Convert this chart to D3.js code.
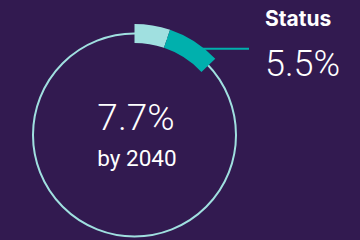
<!DOCTYPE html>
<html>
<head>
<meta charset="utf-8">
<script src="https://cdn.jsdelivr.net/npm/d3@7"></script>
<style>
  html, body { margin: 0; padding: 0; background: #321a50; }
  svg { display: block; }
</style>
</head>
<body>
<svg id="chart"></svg>
<script>
// segments along the ring (percent)
const segmentNames = ["Baseline", "Status"];
const segmentValues = [2.2, 3.3];
const ringMax = 42.4;          // full circle in percent
const statusValue = 5.5;
const targetValue = 7.7;
const targetLabel = "by 2040";
const statusLabel = "Status";
const markerAt = 4.6;          // where the callout line leaves the ring

const width = 360;
const height = 240;
const cx = 134.5, cy = 135;
const r = 101.5;
const band = 19;

const svg = d3.select("#chart")
  .attr("width", width)
  .attr("height", height);

svg.append("rect")
  .attr("width", width)
  .attr("height", height)
  .attr("fill", "#321a50");

const angle = d3.scaleLinear()
  .domain([0, ringMax])
  .range([0, 2 * Math.PI]);

const colors = d3.scaleOrdinal()
  .domain(segmentNames)
  .range(["#a0e0e0", "#00b0ad"]);

const g = svg.append("g")
  .attr("transform", `translate(${cx},${cy})`);

g.append("circle")
  .attr("r", r)
  .attr("fill", "none")
  .attr("stroke", "#a0e0e0")
  .attr("stroke-width", 2);

let acc = 0;
const segs = segmentValues.map((v, i) => {
  const s = { name: segmentNames[i], start: acc, end: acc + v };
  acc += v;
  return s;
});

const arc = d3.arc()
  .innerRadius(r - band / 2)
  .outerRadius(r + band / 2)
  .startAngle(d => angle(d.start))
  .endAngle(d => angle(d.end));

g.selectAll("path.seg")
  .data(segs)
  .enter()
  .append("path")
  .attr("class", "seg")
  .attr("d", arc)
  .attr("fill", d => colors(d.name));

// callout
const a = angle(markerAt);
const mx = cx + (r + band / 2) * Math.sin(a);
const my = cy - (r + band / 2) * Math.cos(a);

svg.append("line")
  .attr("x1", mx - 2)
  .attr("x2", 249)
  .attr("y1", my)
  .attr("y2", my)
  .attr("stroke", "#00b0ad")
  .attr("stroke-width", 2);

svg.append("text")
  .attr("x", 265)
  .attr("y", 26)
  .attr("fill", "#ffffff")
  .attr("font-family", "Inter, 'Noto Sans', sans-serif")
  .attr("font-weight", 700)
  .attr("font-size", 21)
  .text(statusLabel);

svg.append("text")
  .attr("x", 265)
  .attr("y", 76)
  .attr("fill", "#ffffff")
  .attr("font-family", "Roboto, Inter, sans-serif")
  .attr("font-weight", 300)
  .attr("font-size", 36)
  .text(d3.format(".1f")(statusValue) + "%");

svg.append("text")
  .attr("x", 136)
  .attr("y", 130)
  .attr("text-anchor", "middle")
  .attr("fill", "#ffffff")
  .attr("font-family", "Roboto, Inter, sans-serif")
  .attr("font-weight", 300)
  .attr("font-size", 37)
  .text(d3.format(".1f")(targetValue) + "%");

svg.append("text")
  .attr("x", 137)
  .attr("y", 166)
  .attr("text-anchor", "middle")
  .attr("fill", "#ffffff")
  .attr("font-family", "Roboto, Inter, sans-serif")
  .attr("font-weight", 400)
  .attr("font-size", 22.5)
  .text(targetLabel);
</script>
</body>
</html>
